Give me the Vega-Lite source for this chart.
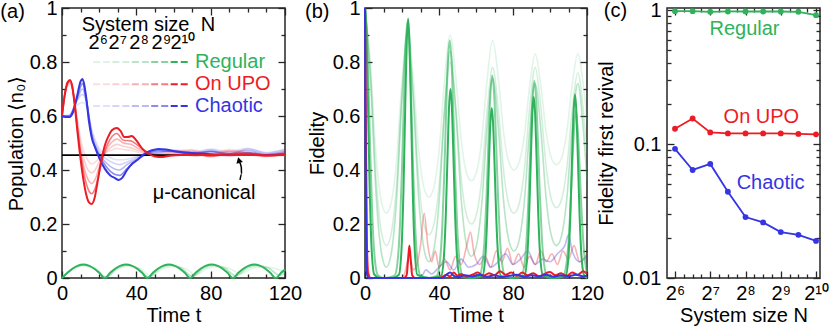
{
"$schema":"https://vega.github.io/schema/vega-lite/v6.json",
"autosize":{"type":"none"},
"padding":{"left":62,"top":8,"right":769,"bottom":325},
"background":"white",
"bounds":"flush",
"spacing":80,
"config":{
 "view":{"stroke":"#262626","strokeWidth":1.5},
 "font":"Liberation Sans",
 "axis":{"labelFont":"Liberation Sans","titleFont":"Liberation Sans","labelFontSize":20,"titleFontSize":20,"labelColor":"#000","titleColor":"#000","titleFontWeight":"normal","domain":false,"grid":false,"tickColor":"#262626","tickWidth":1.3,"labelFlush":false,"labelOverlap":false},
 "text":{"font":"Liberation Sans","fontSize":20},
 "line":{"interpolate":"monotone"}
},
"datasets":{
"pop":[
{"t":0,"y":0,"type":"Regular","N":6},{"t":6,"y":0.033,"type":"Regular","N":6},{"t":12,"y":0.045,"type":"Regular","N":6},{"t":18,"y":0.034,"type":"Regular","N":6},{"t":24,"y":0.004,"type":"Regular","N":6},{"t":30,"y":0.033,"type":"Regular","N":6},{"t":36,"y":0.044,"type":"Regular","N":6},{"t":42,"y":0.035,"type":"Regular","N":6},{"t":48,"y":0.008,"type":"Regular","N":6},{"t":54,"y":0.034,"type":"Regular","N":6},{"t":60,"y":0.043,"type":"Regular","N":6},{"t":66,"y":0.036,"type":"Regular","N":6},{"t":72,"y":0.012,"type":"Regular","N":6},{"t":78,"y":0.035,"type":"Regular","N":6},{"t":84,"y":0.042,"type":"Regular","N":6},{"t":90,"y":0.036,"type":"Regular","N":6},{"t":96,"y":0.016,"type":"Regular","N":6},{"t":102,"y":0.035,"type":"Regular","N":6},{"t":108,"y":0.041,"type":"Regular","N":6},{"t":114,"y":0.036,"type":"Regular","N":6},{"t":120,"y":0.02,"type":"Regular","N":6},
{"t":0,"y":0,"type":"Regular","N":8},{"t":5.85,"y":0.034,"type":"Regular","N":8},{"t":11.7,"y":0.048,"type":"Regular","N":8},{"t":17.55,"y":0.034,"type":"Regular","N":8},{"t":23.4,"y":0.002,"type":"Regular","N":8},{"t":29.25,"y":0.034,"type":"Regular","N":8},{"t":35.1,"y":0.048,"type":"Regular","N":8},{"t":40.95,"y":0.035,"type":"Regular","N":8},{"t":46.8,"y":0.004,"type":"Regular","N":8},{"t":52.65,"y":0.035,"type":"Regular","N":8},{"t":58.5,"y":0.047,"type":"Regular","N":8},{"t":64.35,"y":0.036,"type":"Regular","N":8},{"t":70.2,"y":0.006,"type":"Regular","N":8},{"t":76.05,"y":0.036,"type":"Regular","N":8},{"t":81.9,"y":0.047,"type":"Regular","N":8},{"t":87.75,"y":0.036,"type":"Regular","N":8},{"t":93.6,"y":0.008,"type":"Regular","N":8},{"t":99.45,"y":0.036,"type":"Regular","N":8},{"t":105.3,"y":0.046,"type":"Regular","N":8},{"t":111.15,"y":0.037,"type":"Regular","N":8},{"t":117,"y":0.01,"type":"Regular","N":8},{"t":120,"y":0.02,"type":"Regular","N":8},
{"t":0,"y":0.6,"type":"Chaotic","N":6},{"t":4,"y":0.605,"type":"Chaotic","N":6},{"t":8,"y":0.64,"type":"Chaotic","N":6},{"t":11,"y":0.65,"type":"Chaotic","N":6},{"t":13,"y":0.64,"type":"Chaotic","N":6},{"t":16,"y":0.55,"type":"Chaotic","N":6},{"t":20,"y":0.48,"type":"Chaotic","N":6},{"t":24,"y":0.455,"type":"Chaotic","N":6},{"t":28,"y":0.44,"type":"Chaotic","N":6},{"t":31,"y":0.438,"type":"Chaotic","N":6},{"t":35,"y":0.44,"type":"Chaotic","N":6},{"t":40,"y":0.45,"type":"Chaotic","N":6},{"t":46,"y":0.455,"type":"Chaotic","N":6},{"t":52,"y":0.462,"type":"Chaotic","N":6},{"t":60,"y":0.475,"type":"Chaotic","N":6},{"t":70,"y":0.465,"type":"Chaotic","N":6},{"t":80,"y":0.478,"type":"Chaotic","N":6},{"t":90,"y":0.468,"type":"Chaotic","N":6},{"t":100,"y":0.48,"type":"Chaotic","N":6},{"t":110,"y":0.465,"type":"Chaotic","N":6},{"t":120,"y":0.478,"type":"Chaotic","N":6},
{"t":0,"y":0.6,"type":"Chaotic","N":7},{"t":4,"y":0.602,"type":"Chaotic","N":7},{"t":8,"y":0.655,"type":"Chaotic","N":7},{"t":11,"y":0.68,"type":"Chaotic","N":7},{"t":13,"y":0.655,"type":"Chaotic","N":7},{"t":16,"y":0.54,"type":"Chaotic","N":7},{"t":20,"y":0.47,"type":"Chaotic","N":7},{"t":24,"y":0.44,"type":"Chaotic","N":7},{"t":28,"y":0.425,"type":"Chaotic","N":7},{"t":31,"y":0.42,"type":"Chaotic","N":7},{"t":35,"y":0.43,"type":"Chaotic","N":7},{"t":40,"y":0.445,"type":"Chaotic","N":7},{"t":46,"y":0.458,"type":"Chaotic","N":7},{"t":52,"y":0.465,"type":"Chaotic","N":7},{"t":60,"y":0.472,"type":"Chaotic","N":7},{"t":70,"y":0.46,"type":"Chaotic","N":7},{"t":80,"y":0.475,"type":"Chaotic","N":7},{"t":90,"y":0.46,"type":"Chaotic","N":7},{"t":100,"y":0.478,"type":"Chaotic","N":7},{"t":110,"y":0.462,"type":"Chaotic","N":7},{"t":120,"y":0.475,"type":"Chaotic","N":7},
{"t":0,"y":0.6,"type":"Chaotic","N":8},{"t":4,"y":0.6,"type":"Chaotic","N":8},{"t":8,"y":0.66,"type":"Chaotic","N":8},{"t":11,"y":0.7,"type":"Chaotic","N":8},{"t":13,"y":0.66,"type":"Chaotic","N":8},{"t":16,"y":0.53,"type":"Chaotic","N":8},{"t":20,"y":0.46,"type":"Chaotic","N":8},{"t":24,"y":0.425,"type":"Chaotic","N":8},{"t":28,"y":0.405,"type":"Chaotic","N":8},{"t":31,"y":0.4,"type":"Chaotic","N":8},{"t":35,"y":0.42,"type":"Chaotic","N":8},{"t":40,"y":0.44,"type":"Chaotic","N":8},{"t":46,"y":0.46,"type":"Chaotic","N":8},{"t":52,"y":0.468,"type":"Chaotic","N":8},{"t":60,"y":0.47,"type":"Chaotic","N":8},{"t":70,"y":0.458,"type":"Chaotic","N":8},{"t":80,"y":0.47,"type":"Chaotic","N":8},{"t":90,"y":0.462,"type":"Chaotic","N":8},{"t":100,"y":0.472,"type":"Chaotic","N":8},{"t":110,"y":0.458,"type":"Chaotic","N":8},{"t":120,"y":0.468,"type":"Chaotic","N":8},
{"t":0,"y":0.6,"type":"Chaotic","N":9},{"t":4,"y":0.598,"type":"Chaotic","N":9},{"t":8,"y":0.665,"type":"Chaotic","N":9},{"t":11,"y":0.72,"type":"Chaotic","N":9},{"t":13,"y":0.665,"type":"Chaotic","N":9},{"t":16,"y":0.525,"type":"Chaotic","N":9},{"t":20,"y":0.455,"type":"Chaotic","N":9},{"t":24,"y":0.41,"type":"Chaotic","N":9},{"t":28,"y":0.385,"type":"Chaotic","N":9},{"t":31,"y":0.38,"type":"Chaotic","N":9},{"t":35,"y":0.405,"type":"Chaotic","N":9},{"t":40,"y":0.435,"type":"Chaotic","N":9},{"t":46,"y":0.462,"type":"Chaotic","N":9},{"t":52,"y":0.472,"type":"Chaotic","N":9},{"t":60,"y":0.468,"type":"Chaotic","N":9},{"t":70,"y":0.462,"type":"Chaotic","N":9},{"t":80,"y":0.468,"type":"Chaotic","N":9},{"t":90,"y":0.458,"type":"Chaotic","N":9},{"t":100,"y":0.465,"type":"Chaotic","N":9},{"t":110,"y":0.455,"type":"Chaotic","N":9},{"t":120,"y":0.462,"type":"Chaotic","N":9},
{"t":0,"y":0.6,"type":"On UPO","N":6},{"t":1.5,"y":0.672,"type":"On UPO","N":6},{"t":3,"y":0.71,"type":"On UPO","N":6},{"t":4.3,"y":0.716,"type":"On UPO","N":6},{"t":5.5,"y":0.7,"type":"On UPO","N":6},{"t":7,"y":0.65,"type":"On UPO","N":6},{"t":8.5,"y":0.58,"type":"On UPO","N":6},{"t":10,"y":0.515,"type":"On UPO","N":6},{"t":12,"y":0.465,"type":"On UPO","N":6},{"t":14,"y":0.435,"type":"On UPO","N":6},{"t":16,"y":0.422,"type":"On UPO","N":6},{"t":18,"y":0.43,"type":"On UPO","N":6},{"t":20,"y":0.445,"type":"On UPO","N":6},{"t":23,"y":0.462,"type":"On UPO","N":6},{"t":26,"y":0.472,"type":"On UPO","N":6},{"t":29.5,"y":0.48,"type":"On UPO","N":6},{"t":33,"y":0.476,"type":"On UPO","N":6},{"t":37,"y":0.472,"type":"On UPO","N":6},{"t":41,"y":0.466,"type":"On UPO","N":6},{"t":46,"y":0.462,"type":"On UPO","N":6},{"t":52,"y":0.46,"type":"On UPO","N":6},{"t":60,"y":0.47,"type":"On UPO","N":6},{"t":70,"y":0.476,"type":"On UPO","N":6},{"t":80,"y":0.46,"type":"On UPO","N":6},{"t":90,"y":0.476,"type":"On UPO","N":6},{"t":100,"y":0.466,"type":"On UPO","N":6},{"t":110,"y":0.455,"type":"On UPO","N":6},{"t":120,"y":0.472,"type":"On UPO","N":6},
{"t":0,"y":0.6,"type":"On UPO","N":7},{"t":1.5,"y":0.676,"type":"On UPO","N":7},{"t":3,"y":0.716,"type":"On UPO","N":7},{"t":4.3,"y":0.722,"type":"On UPO","N":7},{"t":5.5,"y":0.705,"type":"On UPO","N":7},{"t":7,"y":0.645,"type":"On UPO","N":7},{"t":8.5,"y":0.565,"type":"On UPO","N":7},{"t":10,"y":0.495,"type":"On UPO","N":7},{"t":12,"y":0.435,"type":"On UPO","N":7},{"t":14,"y":0.4,"type":"On UPO","N":7},{"t":16,"y":0.39,"type":"On UPO","N":7},{"t":18,"y":0.402,"type":"On UPO","N":7},{"t":20,"y":0.43,"type":"On UPO","N":7},{"t":23,"y":0.462,"type":"On UPO","N":7},{"t":26,"y":0.482,"type":"On UPO","N":7},{"t":29.5,"y":0.495,"type":"On UPO","N":7},{"t":33,"y":0.488,"type":"On UPO","N":7},{"t":37,"y":0.482,"type":"On UPO","N":7},{"t":41,"y":0.472,"type":"On UPO","N":7},{"t":46,"y":0.462,"type":"On UPO","N":7},{"t":52,"y":0.458,"type":"On UPO","N":7},{"t":60,"y":0.466,"type":"On UPO","N":7},{"t":70,"y":0.472,"type":"On UPO","N":7},{"t":80,"y":0.456,"type":"On UPO","N":7},{"t":90,"y":0.472,"type":"On UPO","N":7},{"t":100,"y":0.462,"type":"On UPO","N":7},{"t":110,"y":0.452,"type":"On UPO","N":7},{"t":120,"y":0.468,"type":"On UPO","N":7},
{"t":0,"y":0.6,"type":"On UPO","N":8},{"t":1.5,"y":0.678,"type":"On UPO","N":8},{"t":3,"y":0.72,"type":"On UPO","N":8},{"t":4.3,"y":0.727,"type":"On UPO","N":8},{"t":5.5,"y":0.708,"type":"On UPO","N":8},{"t":7,"y":0.64,"type":"On UPO","N":8},{"t":8.5,"y":0.55,"type":"On UPO","N":8},{"t":10,"y":0.475,"type":"On UPO","N":8},{"t":12,"y":0.405,"type":"On UPO","N":8},{"t":14,"y":0.365,"type":"On UPO","N":8},{"t":16,"y":0.35,"type":"On UPO","N":8},{"t":18,"y":0.368,"type":"On UPO","N":8},{"t":20,"y":0.41,"type":"On UPO","N":8},{"t":23,"y":0.465,"type":"On UPO","N":8},{"t":26,"y":0.497,"type":"On UPO","N":8},{"t":29.5,"y":0.515,"type":"On UPO","N":8},{"t":33,"y":0.5,"type":"On UPO","N":8},{"t":37,"y":0.495,"type":"On UPO","N":8},{"t":41,"y":0.48,"type":"On UPO","N":8},{"t":46,"y":0.465,"type":"On UPO","N":8},{"t":52,"y":0.455,"type":"On UPO","N":8},{"t":60,"y":0.46,"type":"On UPO","N":8},{"t":70,"y":0.468,"type":"On UPO","N":8},{"t":80,"y":0.452,"type":"On UPO","N":8},{"t":90,"y":0.468,"type":"On UPO","N":8},{"t":100,"y":0.458,"type":"On UPO","N":8},{"t":110,"y":0.45,"type":"On UPO","N":8},{"t":120,"y":0.462,"type":"On UPO","N":8},
{"t":0,"y":0.6,"type":"On UPO","N":9},{"t":1.5,"y":0.68,"type":"On UPO","N":9},{"t":3,"y":0.722,"type":"On UPO","N":9},{"t":4.3,"y":0.73,"type":"On UPO","N":9},{"t":5.5,"y":0.71,"type":"On UPO","N":9},{"t":7,"y":0.635,"type":"On UPO","N":9},{"t":8.5,"y":0.54,"type":"On UPO","N":9},{"t":10,"y":0.46,"type":"On UPO","N":9},{"t":12,"y":0.38,"type":"On UPO","N":9},{"t":14,"y":0.33,"type":"On UPO","N":9},{"t":16,"y":0.312,"type":"On UPO","N":9},{"t":18,"y":0.335,"type":"On UPO","N":9},{"t":20,"y":0.39,"type":"On UPO","N":9},{"t":23,"y":0.47,"type":"On UPO","N":9},{"t":26,"y":0.515,"type":"On UPO","N":9},{"t":29.5,"y":0.535,"type":"On UPO","N":9},{"t":33,"y":0.51,"type":"On UPO","N":9},{"t":37,"y":0.508,"type":"On UPO","N":9},{"t":41,"y":0.49,"type":"On UPO","N":9},{"t":46,"y":0.465,"type":"On UPO","N":9},{"t":52,"y":0.452,"type":"On UPO","N":9},{"t":60,"y":0.455,"type":"On UPO","N":9},{"t":70,"y":0.462,"type":"On UPO","N":9},{"t":80,"y":0.45,"type":"On UPO","N":9},{"t":90,"y":0.46,"type":"On UPO","N":9},{"t":100,"y":0.462,"type":"On UPO","N":9},{"t":110,"y":0.452,"type":"On UPO","N":9},{"t":120,"y":0.458,"type":"On UPO","N":9},
{"t":0,"y":0,"type":"Regular","N":10},{"t":2.9,"y":0.019,"type":"Regular","N":10},{"t":5.75,"y":0.035,"type":"Regular","N":10},{"t":8.6,"y":0.046,"type":"Regular","N":10},{"t":11.5,"y":0.05,"type":"Regular","N":10},{"t":14.4,"y":0.046,"type":"Regular","N":10},{"t":17.25,"y":0.035,"type":"Regular","N":10},{"t":20.1,"y":0.019,"type":"Regular","N":10},
{"t":23,"y":0,"type":"Regular","N":10},{"t":25.9,"y":0.019,"type":"Regular","N":10},{"t":28.75,"y":0.035,"type":"Regular","N":10},{"t":31.6,"y":0.046,"type":"Regular","N":10},{"t":34.5,"y":0.05,"type":"Regular","N":10},{"t":37.4,"y":0.046,"type":"Regular","N":10},{"t":40.25,"y":0.035,"type":"Regular","N":10},{"t":43.1,"y":0.019,"type":"Regular","N":10},
{"t":46,"y":0,"type":"Regular","N":10},{"t":48.9,"y":0.019,"type":"Regular","N":10},{"t":51.75,"y":0.035,"type":"Regular","N":10},{"t":54.6,"y":0.046,"type":"Regular","N":10},{"t":57.5,"y":0.05,"type":"Regular","N":10},{"t":60.4,"y":0.046,"type":"Regular","N":10},{"t":63.25,"y":0.035,"type":"Regular","N":10},{"t":66.1,"y":0.019,"type":"Regular","N":10},
{"t":69,"y":0,"type":"Regular","N":10},{"t":71.9,"y":0.019,"type":"Regular","N":10},{"t":74.75,"y":0.035,"type":"Regular","N":10},{"t":77.6,"y":0.046,"type":"Regular","N":10},{"t":80.5,"y":0.05,"type":"Regular","N":10},{"t":83.4,"y":0.046,"type":"Regular","N":10},{"t":86.25,"y":0.035,"type":"Regular","N":10},{"t":89.1,"y":0.019,"type":"Regular","N":10},
{"t":92,"y":0,"type":"Regular","N":10},{"t":94.9,"y":0.019,"type":"Regular","N":10},{"t":97.75,"y":0.035,"type":"Regular","N":10},{"t":100.6,"y":0.046,"type":"Regular","N":10},{"t":103.5,"y":0.05,"type":"Regular","N":10},{"t":106.4,"y":0.046,"type":"Regular","N":10},{"t":109.25,"y":0.035,"type":"Regular","N":10},{"t":112.1,"y":0.019,"type":"Regular","N":10},
{"t":115,"y":0,"type":"Regular","N":10},{"t":117.9,"y":0.019,"type":"Regular","N":10},{"t":120,"y":0.031,"type":"Regular","N":10},
{"t":0,"y":0.6,"type":"Chaotic","N":10},{"t":2,"y":0.596,"type":"Chaotic","N":10},{"t":4,"y":0.596,"type":"Chaotic","N":10},{"t":6,"y":0.615,"type":"Chaotic","N":10},{"t":8,"y":0.67,"type":"Chaotic","N":10},{"t":10,"y":0.728,"type":"Chaotic","N":10},{"t":11,"y":0.737,"type":"Chaotic","N":10},{"t":12,"y":0.715,"type":"Chaotic","N":10},{"t":13,"y":0.67,"type":"Chaotic","N":10},{"t":14.5,"y":0.58,"type":"Chaotic","N":10},{"t":16,"y":0.52,"type":"Chaotic","N":10},{"t":18,"y":0.48,"type":"Chaotic","N":10},{"t":20,"y":0.445,"type":"Chaotic","N":10},{"t":23,"y":0.405,"type":"Chaotic","N":10},{"t":26,"y":0.38,"type":"Chaotic","N":10},{"t":28.5,"y":0.37,"type":"Chaotic","N":10},{"t":30.5,"y":0.363,"type":"Chaotic","N":10},{"t":32.5,"y":0.372,"type":"Chaotic","N":10},{"t":35,"y":0.4,"type":"Chaotic","N":10},{"t":38,"y":0.425,"type":"Chaotic","N":10},{"t":41,"y":0.44,"type":"Chaotic","N":10},{"t":44,"y":0.458,"type":"Chaotic","N":10},{"t":48,"y":0.472,"type":"Chaotic","N":10},{"t":52,"y":0.478,"type":"Chaotic","N":10},{"t":56,"y":0.476,"type":"Chaotic","N":10},{"t":60,"y":0.47,"type":"Chaotic","N":10},{"t":65,"y":0.466,"type":"Chaotic","N":10},{"t":70,"y":0.463,"type":"Chaotic","N":10},{"t":76,"y":0.46,"type":"Chaotic","N":10},{"t":82,"y":0.457,"type":"Chaotic","N":10},{"t":90,"y":0.456,"type":"Chaotic","N":10},{"t":100,"y":0.457,"type":"Chaotic","N":10},{"t":110,"y":0.456,"type":"Chaotic","N":10},{"t":120,"y":0.457,"type":"Chaotic","N":10},
{"t":0,"y":0.6,"type":"On UPO","N":10},{"t":1.5,"y":0.68,"type":"On UPO","N":10},{"t":3,"y":0.725,"type":"On UPO","N":10},{"t":4.3,"y":0.733,"type":"On UPO","N":10},{"t":5.5,"y":0.71,"type":"On UPO","N":10},{"t":7,"y":0.63,"type":"On UPO","N":10},{"t":8.5,"y":0.53,"type":"On UPO","N":10},{"t":10,"y":0.44,"type":"On UPO","N":10},{"t":11.5,"y":0.365,"type":"On UPO","N":10},{"t":13,"y":0.31,"type":"On UPO","N":10},{"t":14.5,"y":0.28,"type":"On UPO","N":10},{"t":16,"y":0.274,"type":"On UPO","N":10},{"t":17.5,"y":0.295,"type":"On UPO","N":10},{"t":19,"y":0.35,"type":"On UPO","N":10},{"t":21,"y":0.43,"type":"On UPO","N":10},{"t":23,"y":0.49,"type":"On UPO","N":10},{"t":25,"y":0.525,"type":"On UPO","N":10},{"t":27,"y":0.548,"type":"On UPO","N":10},{"t":29.5,"y":0.556,"type":"On UPO","N":10},{"t":31.5,"y":0.545,"type":"On UPO","N":10},{"t":33.5,"y":0.522,"type":"On UPO","N":10},{"t":35.5,"y":0.522,"type":"On UPO","N":10},{"t":37.5,"y":0.526,"type":"On UPO","N":10},{"t":40,"y":0.51,"type":"On UPO","N":10},{"t":43,"y":0.48,"type":"On UPO","N":10},{"t":46,"y":0.463,"type":"On UPO","N":10},{"t":50,"y":0.45,"type":"On UPO","N":10},{"t":54,"y":0.448,"type":"On UPO","N":10},{"t":58,"y":0.453,"type":"On UPO","N":10},{"t":64,"y":0.456,"type":"On UPO","N":10},{"t":72,"y":0.455,"type":"On UPO","N":10},{"t":80,"y":0.456,"type":"On UPO","N":10},{"t":90,"y":0.455,"type":"On UPO","N":10},{"t":100,"y":0.456,"type":"On UPO","N":10},{"t":110,"y":0.455,"type":"On UPO","N":10},{"t":120,"y":0.456,"type":"On UPO","N":10}
],
"fid":[
{"t":0,"y":1,"type":"Regular","N":6},{"t":3,"y":0.787,"type":"Regular","N":6},{"t":6,"y":0.453,"type":"Regular","N":6},{"t":9,"y":0.278,"type":"Regular","N":6},{"t":11.5,"y":0.24,"type":"Regular","N":6},{"t":14,"y":0.274,"type":"Regular","N":6},{"t":17,"y":0.43,"type":"Regular","N":6},{"t":20,"y":0.73,"type":"Regular","N":6},{"t":23,"y":0.92,"type":"Regular","N":6},{"t":26,"y":0.746,"type":"Regular","N":6},{"t":29,"y":0.474,"type":"Regular","N":6},{"t":32,"y":0.331,"type":"Regular","N":6},{"t":34.5,"y":0.3,"type":"Regular","N":6},{"t":37,"y":0.33,"type":"Regular","N":6},{"t":40,"y":0.468,"type":"Regular","N":6},{"t":43,"y":0.732,"type":"Regular","N":6},{"t":46,"y":0.9,"type":"Regular","N":6},{"t":49,"y":0.749,"type":"Regular","N":6},{"t":52,"y":0.511,"type":"Regular","N":6},{"t":55,"y":0.387,"type":"Regular","N":6},{"t":57.5,"y":0.36,"type":"Regular","N":6},{"t":60,"y":0.386,"type":"Regular","N":6},{"t":63,"y":0.506,"type":"Regular","N":6},{"t":66,"y":0.734,"type":"Regular","N":6},{"t":69,"y":0.88,"type":"Regular","N":6},{"t":72,"y":0.746,"type":"Regular","N":6},{"t":75,"y":0.534,"type":"Regular","N":6},{"t":78,"y":0.424,"type":"Regular","N":6},{"t":80.5,"y":0.4,"type":"Regular","N":6},{"t":83,"y":0.422,"type":"Regular","N":6},{"t":86,"y":0.52,"type":"Regular","N":6},{"t":89,"y":0.71,"type":"Regular","N":6},{"t":92,"y":0.83,"type":"Regular","N":6},{"t":95,"y":0.715,"type":"Regular","N":6},{"t":98,"y":0.535,"type":"Regular","N":6},{"t":101,"y":0.44,"type":"Regular","N":6},{"t":103.5,"y":0.42,"type":"Regular","N":6},{"t":106,"y":0.44,"type":"Regular","N":6},{"t":109,"y":0.535,"type":"Regular","N":6},{"t":112,"y":0.715,"type":"Regular","N":6},{"t":115,"y":0.83,"type":"Regular","N":6},{"t":118,"y":0.715,"type":"Regular","N":6},{"t":120,"y":0.584,"type":"Regular","N":6},
{"t":0,"y":1,"type":"Regular","N":7},{"t":3,"y":0.754,"type":"Regular","N":7},{"t":6,"y":0.366,"type":"Regular","N":7},{"t":9,"y":0.164,"type":"Regular","N":7},{"t":11.5,"y":0.12,"type":"Regular","N":7},{"t":14,"y":0.159,"type":"Regular","N":7},{"t":17,"y":0.338,"type":"Regular","N":7},{"t":20,"y":0.682,"type":"Regular","N":7},{"t":23,"y":0.9,"type":"Regular","N":7},{"t":26,"y":0.693,"type":"Regular","N":7},{"t":29,"y":0.367,"type":"Regular","N":7},{"t":32,"y":0.197,"type":"Regular","N":7},{"t":34.5,"y":0.16,"type":"Regular","N":7},{"t":37,"y":0.192,"type":"Regular","N":7},{"t":40,"y":0.339,"type":"Regular","N":7},{"t":43,"y":0.621,"type":"Regular","N":7},{"t":46,"y":0.8,"type":"Regular","N":7},{"t":49,"y":0.632,"type":"Regular","N":7},{"t":52,"y":0.368,"type":"Regular","N":7},{"t":55,"y":0.23,"type":"Regular","N":7},{"t":57.5,"y":0.2,"type":"Regular","N":7},{"t":60,"y":0.229,"type":"Regular","N":7},{"t":63,"y":0.362,"type":"Regular","N":7},{"t":66,"y":0.618,"type":"Regular","N":7},{"t":69,"y":0.78,"type":"Regular","N":7},{"t":72,"y":0.629,"type":"Regular","N":7},{"t":75,"y":0.391,"type":"Regular","N":7},{"t":78,"y":0.267,"type":"Regular","N":7},{"t":80.5,"y":0.24,"type":"Regular","N":7},{"t":83,"y":0.267,"type":"Regular","N":7},{"t":86,"y":0.391,"type":"Regular","N":7},{"t":89,"y":0.629,"type":"Regular","N":7},{"t":92,"y":0.78,"type":"Regular","N":7},{"t":95,"y":0.634,"type":"Regular","N":7},{"t":98,"y":0.406,"type":"Regular","N":7},{"t":101,"y":0.286,"type":"Regular","N":7},{"t":103.5,"y":0.26,"type":"Regular","N":7},{"t":106,"y":0.285,"type":"Regular","N":7},{"t":109,"y":0.4,"type":"Regular","N":7},{"t":112,"y":0.62,"type":"Regular","N":7},{"t":115,"y":0.76,"type":"Regular","N":7},{"t":118,"y":0.62,"type":"Regular","N":7},{"t":120,"y":0.46,"type":"Regular","N":7},
{"t":0,"y":1,"type":"Regular","N":8},{"t":3,"y":0.731,"type":"Regular","N":8},{"t":6,"y":0.309,"type":"Regular","N":8},{"t":9,"y":0.088,"type":"Regular","N":8},{"t":11.5,"y":0.04,"type":"Regular","N":8},{"t":14,"y":0.084,"type":"Regular","N":8},{"t":17,"y":0.284,"type":"Regular","N":8},{"t":20,"y":0.666,"type":"Regular","N":8},{"t":23,"y":0.91,"type":"Regular","N":8},{"t":26,"y":0.672,"type":"Regular","N":8},{"t":29,"y":0.298,"type":"Regular","N":8},{"t":32,"y":0.103,"type":"Regular","N":8},{"t":34.5,"y":0.06,"type":"Regular","N":8},{"t":37,"y":0.099,"type":"Regular","N":8},{"t":40,"y":0.278,"type":"Regular","N":8},{"t":43,"y":0.622,"type":"Regular","N":8},{"t":46,"y":0.84,"type":"Regular","N":8},{"t":49,"y":0.627,"type":"Regular","N":8},{"t":52,"y":0.293,"type":"Regular","N":8},{"t":55,"y":0.118,"type":"Regular","N":8},{"t":57.5,"y":0.08,"type":"Regular","N":8},{"t":60,"y":0.113,"type":"Regular","N":8},{"t":63,"y":0.265,"type":"Regular","N":8},{"t":66,"y":0.555,"type":"Regular","N":8},{"t":69,"y":0.74,"type":"Regular","N":8},{"t":72,"y":0.561,"type":"Regular","N":8},{"t":75,"y":0.279,"type":"Regular","N":8},{"t":78,"y":0.132,"type":"Regular","N":8},{"t":80.5,"y":0.1,"type":"Regular","N":8},{"t":83,"y":0.131,"type":"Regular","N":8},{"t":86,"y":0.274,"type":"Regular","N":8},{"t":89,"y":0.546,"type":"Regular","N":8},{"t":92,"y":0.72,"type":"Regular","N":8},{"t":95,"y":0.552,"type":"Regular","N":8},{"t":98,"y":0.288,"type":"Regular","N":8},{"t":101,"y":0.15,"type":"Regular","N":8},{"t":103.5,"y":0.12,"type":"Regular","N":8},{"t":106,"y":0.15,"type":"Regular","N":8},{"t":109,"y":0.288,"type":"Regular","N":8},{"t":112,"y":0.552,"type":"Regular","N":8},{"t":115,"y":0.72,"type":"Regular","N":8},{"t":118,"y":0.552,"type":"Regular","N":8},{"t":120,"y":0.36,"type":"Regular","N":8},
{"t":0,"y":1,"type":"On UPO","N":8},{"t":0.6,"y":0.4,"type":"On UPO","N":8},{"t":1.5,"y":0.05,"type":"On UPO","N":8},{"t":3,"y":0,"type":"On UPO","N":8},{"t":20,"y":0,"type":"On UPO","N":8},{"t":22,"y":0.03,"type":"On UPO","N":8},{"t":24,"y":0.09,"type":"On UPO","N":8},{"t":26,"y":0.03,"type":"On UPO","N":8},{"t":28,"y":0.05,"type":"On UPO","N":8},{"t":30,"y":0.12,"type":"On UPO","N":8},{"t":32,"y":0.24,"type":"On UPO","N":8},{"t":34,"y":0.12,"type":"On UPO","N":8},{"t":36,"y":0.06,"type":"On UPO","N":8},{"t":38,"y":0.1,"type":"On UPO","N":8},{"t":40,"y":0.04,"type":"On UPO","N":8},{"t":43,"y":0.07,"type":"On UPO","N":8},{"t":46,"y":0.03,"type":"On UPO","N":8},{"t":49,"y":0.08,"type":"On UPO","N":8},{"t":52,"y":0.05,"type":"On UPO","N":8},{"t":55,"y":0.12,"type":"On UPO","N":8},{"t":57,"y":0.17,"type":"On UPO","N":8},{"t":59,"y":0.09,"type":"On UPO","N":8},{"t":62,"y":0.05,"type":"On UPO","N":8},{"t":65,"y":0.08,"type":"On UPO","N":8},{"t":68,"y":0.04,"type":"On UPO","N":8},{"t":71,"y":0.1,"type":"On UPO","N":8},{"t":74,"y":0.06,"type":"On UPO","N":8},{"t":77,"y":0.11,"type":"On UPO","N":8},{"t":80,"y":0.05,"type":"On UPO","N":8},{"t":83,"y":0.09,"type":"On UPO","N":8},{"t":86,"y":0.04,"type":"On UPO","N":8},{"t":89,"y":0.08,"type":"On UPO","N":8},{"t":92,"y":0.05,"type":"On UPO","N":8},{"t":95,"y":0.1,"type":"On UPO","N":8},{"t":98,"y":0.06,"type":"On UPO","N":8},{"t":101,"y":0.09,"type":"On UPO","N":8},{"t":104,"y":0.05,"type":"On UPO","N":8},{"t":107,"y":0.1,"type":"On UPO","N":8},{"t":110,"y":0.07,"type":"On UPO","N":8},{"t":113,"y":0.12,"type":"On UPO","N":8},{"t":116,"y":0.06,"type":"On UPO","N":8},{"t":120,"y":0.09,"type":"On UPO","N":8},
{"t":0,"y":1,"type":"Chaotic","N":8},{"t":0.4,"y":0.3,"type":"Chaotic","N":8},{"t":1,"y":0.02,"type":"Chaotic","N":8},{"t":2,"y":0,"type":"Chaotic","N":8},{"t":30,"y":0,"type":"Chaotic","N":8},{"t":33,"y":0.03,"type":"Chaotic","N":8},{"t":36,"y":0.015,"type":"Chaotic","N":8},{"t":40,"y":0.04,"type":"Chaotic","N":8},{"t":44,"y":0.06,"type":"Chaotic","N":8},{"t":48,"y":0.03,"type":"Chaotic","N":8},{"t":52,"y":0.07,"type":"Chaotic","N":8},{"t":56,"y":0.04,"type":"Chaotic","N":8},{"t":60,"y":0.05,"type":"Chaotic","N":8},{"t":64,"y":0.08,"type":"Chaotic","N":8},{"t":68,"y":0.04,"type":"Chaotic","N":8},{"t":72,"y":0.06,"type":"Chaotic","N":8},{"t":76,"y":0.09,"type":"Chaotic","N":8},{"t":80,"y":0.05,"type":"Chaotic","N":8},{"t":84,"y":0.07,"type":"Chaotic","N":8},{"t":88,"y":0.1,"type":"Chaotic","N":8},{"t":92,"y":0.05,"type":"Chaotic","N":8},{"t":96,"y":0.07,"type":"Chaotic","N":8},{"t":100,"y":0.06,"type":"Chaotic","N":8},{"t":104,"y":0.09,"type":"Chaotic","N":8},{"t":108,"y":0.12,"type":"Chaotic","N":8},{"t":110,"y":0.16,"type":"Chaotic","N":8},{"t":112,"y":0.1,"type":"Chaotic","N":8},{"t":116,"y":0.06,"type":"Chaotic","N":8},{"t":120,"y":0.08,"type":"Chaotic","N":8},
{"t":0,"y":1,"type":"Regular","N":9},{"t":1,"y":0.91,"type":"Regular","N":9},{"t":2,"y":0.685,"type":"Regular","N":9},{"t":3,"y":0.427,"type":"Regular","N":9},{"t":4,"y":0.22,"type":"Regular","N":9},{"t":5.5,"y":0.057,"type":"Regular","N":9},{"t":7,"y":0.01,"type":"Regular","N":9},{"t":10,"y":0,"type":"Regular","N":9},
{"t":16,"y":0.009,"type":"Regular","N":9},{"t":17.5,"y":0.054,"type":"Regular","N":9},{"t":19,"y":0.209,"type":"Regular","N":9},{"t":20,"y":0.406,"type":"Regular","N":9},{"t":21,"y":0.651,"type":"Regular","N":9},{"t":22,"y":0.865,"type":"Regular","N":9},{"t":23,"y":0.95,"type":"Regular","N":9},{"t":24,"y":0.865,"type":"Regular","N":9},{"t":25,"y":0.651,"type":"Regular","N":9},{"t":26,"y":0.406,"type":"Regular","N":9},{"t":27,"y":0.209,"type":"Regular","N":9},{"t":28.5,"y":0.054,"type":"Regular","N":9},{"t":30,"y":0.009,"type":"Regular","N":9},{"t":34.5,"y":0,"type":"Regular","N":9},
{"t":38.8,"y":0.009,"type":"Regular","N":9},{"t":40.3,"y":0.05,"type":"Regular","N":9},{"t":41.8,"y":0.194,"type":"Regular","N":9},{"t":42.8,"y":0.376,"type":"Regular","N":9},{"t":43.8,"y":0.603,"type":"Regular","N":9},{"t":44.8,"y":0.801,"type":"Regular","N":9},{"t":45.8,"y":0.88,"type":"Regular","N":9},{"t":46.8,"y":0.801,"type":"Regular","N":9},{"t":47.8,"y":0.603,"type":"Regular","N":9},{"t":48.8,"y":0.376,"type":"Regular","N":9},{"t":49.8,"y":0.194,"type":"Regular","N":9},{"t":51.3,"y":0.05,"type":"Regular","N":9},{"t":52.8,"y":0.009,"type":"Regular","N":9},{"t":57.5,"y":0,"type":"Regular","N":9},
{"t":61.8,"y":0.007,"type":"Regular","N":9},{"t":63.3,"y":0.043,"type":"Regular","N":9},{"t":64.8,"y":0.165,"type":"Regular","N":9},{"t":65.8,"y":0.32,"type":"Regular","N":9},{"t":66.8,"y":0.514,"type":"Regular","N":9},{"t":67.8,"y":0.683,"type":"Regular","N":9},{"t":68.8,"y":0.75,"type":"Regular","N":9},{"t":69.8,"y":0.683,"type":"Regular","N":9},{"t":70.8,"y":0.514,"type":"Regular","N":9},{"t":71.8,"y":0.32,"type":"Regular","N":9},{"t":72.8,"y":0.165,"type":"Regular","N":9},{"t":74.3,"y":0.043,"type":"Regular","N":9},{"t":75.8,"y":0.007,"type":"Regular","N":9},{"t":80,"y":0,"type":"Regular","N":9},
{"t":84.5,"y":0.007,"type":"Regular","N":9},{"t":86,"y":0.042,"type":"Regular","N":9},{"t":87.5,"y":0.161,"type":"Regular","N":9},{"t":88.5,"y":0.312,"type":"Regular","N":9},{"t":89.5,"y":0.5,"type":"Regular","N":9},{"t":90.5,"y":0.664,"type":"Regular","N":9},{"t":91.5,"y":0.73,"type":"Regular","N":9},{"t":92.5,"y":0.664,"type":"Regular","N":9},{"t":93.5,"y":0.5,"type":"Regular","N":9},{"t":94.5,"y":0.312,"type":"Regular","N":9},{"t":95.5,"y":0.161,"type":"Regular","N":9},{"t":97,"y":0.042,"type":"Regular","N":9},{"t":98.5,"y":0.007,"type":"Regular","N":9},{"t":103,"y":0,"type":"Regular","N":9},
{"t":107,"y":0.006,"type":"Regular","N":9},{"t":108.5,"y":0.035,"type":"Regular","N":9},{"t":110,"y":0.133,"type":"Regular","N":9},{"t":111,"y":0.258,"type":"Regular","N":9},{"t":112,"y":0.413,"type":"Regular","N":9},{"t":113,"y":0.549,"type":"Regular","N":9},{"t":114,"y":0.62,"type":"Regular","N":9},{"t":115,"y":0.549,"type":"Regular","N":9},{"t":116,"y":0.413,"type":"Regular","N":9},{"t":117,"y":0.258,"type":"Regular","N":9},{"t":118,"y":0.133,"type":"Regular","N":9},{"t":119.5,"y":0.035,"type":"Regular","N":9},{"t":120,"y":0.02,"type":"Regular","N":9},
{"t":0,"y":1,"type":"Regular","N":10},{"t":0.7,"y":0.918,"type":"Regular","N":10},{"t":1.5,"y":0.678,"type":"Regular","N":10},{"t":2.5,"y":0.339,"type":"Regular","N":10},{"t":3.5,"y":0.12,"type":"Regular","N":10},{"t":5,"y":0.013,"type":"Regular","N":10},{"t":8,"y":0,"type":"Regular","N":10},{"t":15,"y":0,"type":"Regular","N":10},
{"t":18.3,"y":0.012,"type":"Regular","N":10},{"t":19.8,"y":0.115,"type":"Regular","N":10},{"t":20.8,"y":0.325,"type":"Regular","N":10},{"t":21.8,"y":0.651,"type":"Regular","N":10},{"t":22.6,"y":0.881,"type":"Regular","N":10},{"t":23.3,"y":0.96,"type":"Regular","N":10},{"t":24,"y":0.881,"type":"Regular","N":10},{"t":24.8,"y":0.651,"type":"Regular","N":10},{"t":25.8,"y":0.325,"type":"Regular","N":10},{"t":26.8,"y":0.115,"type":"Regular","N":10},{"t":28.3,"y":0.012,"type":"Regular","N":10},{"t":34.7,"y":0,"type":"Regular","N":10},
{"t":41.2,"y":0.009,"type":"Regular","N":10},{"t":42.7,"y":0.084,"type":"Regular","N":10},{"t":43.7,"y":0.237,"type":"Regular","N":10},{"t":44.7,"y":0.475,"type":"Regular","N":10},{"t":45.5,"y":0.643,"type":"Regular","N":10},{"t":46.2,"y":0.7,"type":"Regular","N":10},{"t":46.9,"y":0.643,"type":"Regular","N":10},{"t":47.7,"y":0.475,"type":"Regular","N":10},{"t":48.7,"y":0.237,"type":"Regular","N":10},{"t":49.7,"y":0.084,"type":"Regular","N":10},{"t":51.2,"y":0.009,"type":"Regular","N":10},{"t":57.4,"y":0,"type":"Regular","N":10},
{"t":63.5,"y":0.008,"type":"Regular","N":10},{"t":65,"y":0.076,"type":"Regular","N":10},{"t":66,"y":0.214,"type":"Regular","N":10},{"t":67,"y":0.427,"type":"Regular","N":10},{"t":67.8,"y":0.578,"type":"Regular","N":10},{"t":68.5,"y":0.63,"type":"Regular","N":10},{"t":69.2,"y":0.578,"type":"Regular","N":10},{"t":70,"y":0.427,"type":"Regular","N":10},{"t":71,"y":0.214,"type":"Regular","N":10},{"t":72,"y":0.076,"type":"Regular","N":10},{"t":73.5,"y":0.008,"type":"Regular","N":10},{"t":80,"y":0,"type":"Regular","N":10},
{"t":86.2,"y":0.009,"type":"Regular","N":10},{"t":87.7,"y":0.08,"type":"Regular","N":10},{"t":88.7,"y":0.227,"type":"Regular","N":10},{"t":89.7,"y":0.454,"type":"Regular","N":10},{"t":90.5,"y":0.615,"type":"Regular","N":10},{"t":91.2,"y":0.67,"type":"Regular","N":10},{"t":91.9,"y":0.615,"type":"Regular","N":10},{"t":92.7,"y":0.454,"type":"Regular","N":10},{"t":93.7,"y":0.227,"type":"Regular","N":10},{"t":94.7,"y":0.08,"type":"Regular","N":10},{"t":96.2,"y":0.009,"type":"Regular","N":10},{"t":102,"y":0,"type":"Regular","N":10},
{"t":108.5,"y":0.009,"type":"Regular","N":10},{"t":110,"y":0.082,"type":"Regular","N":10},{"t":111,"y":0.231,"type":"Regular","N":10},{"t":112,"y":0.461,"type":"Regular","N":10},{"t":112.8,"y":0.624,"type":"Regular","N":10},{"t":113.5,"y":0.68,"type":"Regular","N":10},{"t":114.2,"y":0.624,"type":"Regular","N":10},{"t":115,"y":0.461,"type":"Regular","N":10},{"t":116,"y":0.231,"type":"Regular","N":10},{"t":117,"y":0.082,"type":"Regular","N":10},{"t":118.5,"y":0.009,"type":"Regular","N":10},{"t":120,"y":0,"type":"Regular","N":10},
{"t":0,"y":1,"type":"On UPO","N":10},{"t":0.5,"y":0.55,"type":"On UPO","N":10},{"t":1,"y":0.15,"type":"On UPO","N":10},{"t":1.6,"y":0.02,"type":"On UPO","N":10},{"t":3,"y":0,"type":"On UPO","N":10},{"t":21,"y":0,"type":"On UPO","N":10},{"t":22.5,"y":0.01,"type":"On UPO","N":10},{"t":23.2,"y":0.06,"type":"On UPO","N":10},{"t":24,"y":0.12,"type":"On UPO","N":10},{"t":24.8,"y":0.06,"type":"On UPO","N":10},{"t":25.5,"y":0.01,"type":"On UPO","N":10},{"t":27,"y":0,"type":"On UPO","N":10},{"t":40,"y":0,"type":"On UPO","N":10},{"t":42,"y":0.005,"type":"On UPO","N":10},{"t":44,"y":0.012,"type":"On UPO","N":10},{"t":46,"y":0.006,"type":"On UPO","N":10},{"t":48,"y":0.02,"type":"On UPO","N":10},{"t":50,"y":0.008,"type":"On UPO","N":10},{"t":52,"y":0.015,"type":"On UPO","N":10},{"t":55,"y":0.005,"type":"On UPO","N":10},{"t":58,"y":0.012,"type":"On UPO","N":10},{"t":61,"y":0.02,"type":"On UPO","N":10},{"t":64,"y":0.008,"type":"On UPO","N":10},{"t":67,"y":0.018,"type":"On UPO","N":10},{"t":70,"y":0.01,"type":"On UPO","N":10},{"t":73,"y":0.025,"type":"On UPO","N":10},{"t":76,"y":0.012,"type":"On UPO","N":10},{"t":79,"y":0.02,"type":"On UPO","N":10},{"t":82,"y":0.008,"type":"On UPO","N":10},{"t":85,"y":0.02,"type":"On UPO","N":10},{"t":88,"y":0.01,"type":"On UPO","N":10},{"t":91,"y":0.018,"type":"On UPO","N":10},{"t":94,"y":0.006,"type":"On UPO","N":10},{"t":97,"y":0.015,"type":"On UPO","N":10},{"t":100,"y":0.022,"type":"On UPO","N":10},{"t":103,"y":0.01,"type":"On UPO","N":10},{"t":106,"y":0.018,"type":"On UPO","N":10},{"t":109,"y":0.008,"type":"On UPO","N":10},{"t":112,"y":0.02,"type":"On UPO","N":10},{"t":115,"y":0.012,"type":"On UPO","N":10},{"t":118,"y":0.025,"type":"On UPO","N":10},{"t":120,"y":0.015,"type":"On UPO","N":10},
{"t":0,"y":1,"type":"Chaotic","N":10},{"t":0.3,"y":0.5,"type":"Chaotic","N":10},{"t":0.7,"y":0.1,"type":"Chaotic","N":10},{"t":1.2,"y":0.01,"type":"Chaotic","N":10},{"t":2,"y":0,"type":"Chaotic","N":10},{"t":42,"y":0,"type":"Chaotic","N":10},{"t":44,"y":0.012,"type":"Chaotic","N":10},{"t":46,"y":0.02,"type":"Chaotic","N":10},{"t":48,"y":0.008,"type":"Chaotic","N":10},{"t":50,"y":0.004,"type":"Chaotic","N":10},{"t":54,"y":0.01,"type":"Chaotic","N":10},{"t":58,"y":0.006,"type":"Chaotic","N":10},{"t":62,"y":0.012,"type":"Chaotic","N":10},{"t":66,"y":0.005,"type":"Chaotic","N":10},{"t":70,"y":0.01,"type":"Chaotic","N":10},{"t":74,"y":0.004,"type":"Chaotic","N":10},{"t":78,"y":0.008,"type":"Chaotic","N":10},{"t":82,"y":0.012,"type":"Chaotic","N":10},{"t":86,"y":0.005,"type":"Chaotic","N":10},{"t":90,"y":0.01,"type":"Chaotic","N":10},{"t":94,"y":0.006,"type":"Chaotic","N":10},{"t":98,"y":0.012,"type":"Chaotic","N":10},{"t":102,"y":0.005,"type":"Chaotic","N":10},{"t":106,"y":0.01,"type":"Chaotic","N":10},{"t":110,"y":0.007,"type":"Chaotic","N":10},{"t":114,"y":0.012,"type":"Chaotic","N":10},{"t":118,"y":0.006,"type":"Chaotic","N":10},{"t":120,"y":0.01,"type":"Chaotic","N":10}
],
"rev":[
{"logN":6,"y":0.98,"type":"Regular"},{"logN":6.5,"y":0.98,"type":"Regular"},{"logN":7,"y":0.97,"type":"Regular"},{"logN":7.5,"y":0.975,"type":"Regular"},{"logN":8,"y":0.975,"type":"Regular"},{"logN":8.5,"y":0.975,"type":"Regular"},{"logN":9,"y":0.975,"type":"Regular"},{"logN":9.5,"y":0.97,"type":"Regular"},{"logN":10,"y":0.915,"type":"Regular"},
{"logN":6,"y":0.13,"type":"On UPO"},{"logN":6.5,"y":0.155,"type":"On UPO"},{"logN":7,"y":0.122,"type":"On UPO"},{"logN":7.5,"y":0.12,"type":"On UPO"},{"logN":8,"y":0.12,"type":"On UPO"},{"logN":8.5,"y":0.12,"type":"On UPO"},{"logN":9,"y":0.12,"type":"On UPO"},{"logN":9.5,"y":0.119,"type":"On UPO"},{"logN":10,"y":0.118,"type":"On UPO"},
{"logN":6,"y":0.092,"type":"Chaotic"},{"logN":6.5,"y":0.064,"type":"Chaotic"},{"logN":7,"y":0.071,"type":"Chaotic"},{"logN":7.5,"y":0.044,"type":"Chaotic"},{"logN":8,"y":0.0285,"type":"Chaotic"},{"logN":8.5,"y":0.026,"type":"Chaotic"},{"logN":9,"y":0.022,"type":"Chaotic"},{"logN":9.5,"y":0.021,"type":"Chaotic"},{"logN":10,"y":0.0189,"type":"Chaotic"}
]
},
"hconcat":[
{"width":223,"height":270,
 "resolve":{"axis":{"x":"independent","y":"independent"}},
 "layer":[
  {"data":{"name":"pop"},"transform":[{"filter":"datum.N < 10"}],"mark":{"type":"line","strokeWidth":1.6},
   "encoding":{
    "x":{"field":"t","type":"quantitative","scale":{"domain":[0,120],"nice":false,"zero":false},"axis":{"orient":"bottom","values":[0,40,80,120],"ticks":false,"labelPadding":5,"title":"Time t","titlePadding":2}},
    "y":{"field":"y","type":"quantitative","scale":{"domain":[0,1],"nice":false},"axis":{"orient":"left","values":[0,0.2,0.4,0.6,0.8,1],"ticks":false,"labelPadding":5,"title":"Population ⟨n₀⟩","titlePadding":3,"labelExpr":"datum.value === 0 ? '0' : datum.value === 1 ? '1' : format(datum.value, '.1f')"}},
    "color":{"field":"type","type":"nominal","scale":{"domain":["Regular","On UPO","Chaotic"],"range":["#2eb35c","#ec1c24","#3535e3"]},"legend":null},
    "opacity":{"field":"N","type":"quantitative","scale":{"type":"pow","exponent":6,"domain":[6,10],"range":[0.15,1]},"legend":null},
    "detail":{"field":"N","type":"nominal"}}},
  {"data":{"values":[{"a":0,"b":120,"y":0.455}]},"mark":{"type":"rule","color":"#000","strokeWidth":1.8},
   "encoding":{
    "x":{"field":"a","type":"quantitative","scale":{"domain":[0,120],"nice":false,"zero":false},"axis":{"orient":"bottom","values":[0,40,80,120],"labels":false,"tickSize":-7,"title":null}},
    "x2":{"field":"b"},
    "y":{"field":"y","type":"quantitative","scale":{"domain":[0,1],"nice":false},"axis":{"orient":"left","values":[0,0.2,0.4,0.6,0.8,1],"labels":false,"tickSize":-7,"title":null}}}},
  {"data":{"name":"pop"},"transform":[{"filter":"datum.N == 10"}],"mark":{"type":"line","strokeWidth":2},
   "encoding":{
    "x":{"field":"t","type":"quantitative","scale":{"domain":[0,120],"nice":false,"zero":false},"axis":{"orient":"top","values":[0,40,80,120],"labels":false,"tickSize":-7,"title":null}},
    "y":{"field":"y","type":"quantitative","scale":{"domain":[0,1],"nice":false},"axis":{"orient":"right","values":[0,0.2,0.4,0.6,0.8,1],"labels":false,"tickSize":-7,"title":null}},
    "color":{"field":"type","type":"nominal","legend":null},
    "detail":{"field":"N","type":"nominal"}}},
  {"data":{"values":[
    {"type":"Regular","N":6,"a":16.7,"b":27.1,"y":0.8},{"type":"Regular","N":7,"a":27.1,"b":37.6,"y":0.8},{"type":"Regular","N":8,"a":37.6,"b":48,"y":0.8},{"type":"Regular","N":9,"a":48,"b":58.5,"y":0.8},{"type":"Regular","N":10,"a":58.5,"b":68.9,"y":0.8},
    {"type":"On UPO","N":6,"a":16.7,"b":27.1,"y":0.718},{"type":"On UPO","N":7,"a":27.1,"b":37.6,"y":0.718},{"type":"On UPO","N":8,"a":37.6,"b":48,"y":0.718},{"type":"On UPO","N":9,"a":48,"b":58.5,"y":0.718},{"type":"On UPO","N":10,"a":58.5,"b":68.9,"y":0.718},
    {"type":"Chaotic","N":6,"a":16.7,"b":27.1,"y":0.637},{"type":"Chaotic","N":7,"a":27.1,"b":37.6,"y":0.637},{"type":"Chaotic","N":8,"a":37.6,"b":48,"y":0.637},{"type":"Chaotic","N":9,"a":48,"b":58.5,"y":0.637},{"type":"Chaotic","N":10,"a":58.5,"b":68.9,"y":0.637}]},
   "mark":{"type":"rule","strokeWidth":2,"strokeDash":[7,3]},
   "encoding":{
    "x":{"field":"a","type":"quantitative","scale":{"domain":[0,120],"nice":false,"zero":false},"axis":{"orient":"bottom","values":[10,20,30,50,60,70,90,100,110],"labels":false,"tickSize":-4,"title":null}},
    "x2":{"field":"b"},
    "y":{"field":"y","type":"quantitative","scale":{"domain":[0,1],"nice":false},"axis":{"orient":"left","values":[0.1,0.3,0.5,0.7,0.9],"labels":false,"tickSize":-4,"title":null}},
    "color":{"field":"type","type":"nominal","legend":null},
    "opacity":{"field":"N","type":"quantitative","legend":null}}},
  {"data":{"values":[{"type":"Regular","x":71.6,"y":0.8},{"type":"On UPO","x":71.6,"y":0.718},{"type":"Chaotic","x":71.6,"y":0.637}]},
   "mark":{"type":"text","align":"left","baseline":"middle","fontSize":20},
   "encoding":{
    "x":{"field":"x","type":"quantitative","scale":{"domain":[0,120],"nice":false,"zero":false},"axis":{"orient":"top","values":[10,20,30,50,60,70,90,100,110],"labels":false,"tickSize":-4,"title":null}},
    "y":{"field":"y","type":"quantitative","scale":{"domain":[0,1],"nice":false},"axis":{"orient":"right","values":[0.1,0.3,0.5,0.7,0.9],"labels":false,"tickSize":-4,"title":null}},
    "text":{"field":"type"},
    "color":{"field":"type","type":"nominal","legend":null}}},
  {"data":{"values":[{"x":19.5,"y":0.87,"lab":"2⁶"},{"x":30,"y":0.87,"lab":"2⁷"},{"x":41.5,"y":0.87,"lab":"2⁸"},{"x":53.5,"y":0.87,"lab":"2⁹"},{"x":65,"y":0.87,"lab":"2¹⁰"}]},
   "mark":{"type":"text","align":"center","baseline":"middle","fontSize":20,"color":"#000"},
   "encoding":{"x":{"field":"x","type":"quantitative","axis":null},"y":{"field":"y","type":"quantitative","axis":null},"text":{"field":"lab"}}},
  {"data":{"values":[{"x":39.6,"y":0.937,"lab":"System size"},{"x":78.6,"y":0.937,"lab":"N"}]},
   "mark":{"type":"text","align":"center","baseline":"middle","fontSize":20,"color":"#000"},
   "encoding":{"x":{"field":"x","type":"quantitative","axis":null},"y":{"field":"y","type":"quantitative","axis":null},"text":{"field":"lab"},
    "fontStyle":{"condition":{"test":"datum.lab === 'N'","value":"italic"},"value":"normal"}}},
  {"data":{"values":[{"x":76.4,"y":0.315,"lab":"μ-canonical"}]},
   "mark":{"type":"text","align":"center","baseline":"middle","fontSize":20,"color":"#000"},
   "encoding":{"x":{"field":"x","type":"quantitative","axis":null},"y":{"field":"y","type":"quantitative","axis":null},"text":{"field":"lab"}}},
  {"data":{"values":[{"x":95.8,"y":0.363},{"x":96.6,"y":0.385},{"x":96.5,"y":0.41},{"x":95.6,"y":0.428}]},
   "mark":{"type":"line","color":"#000","strokeWidth":1.5,"interpolate":"monotone"},
   "encoding":{"x":{"field":"x","type":"quantitative","axis":null},"y":{"field":"y","type":"quantitative","axis":null},"order":{"field":"y"}}},
  {"data":{"values":[{"x":95.2,"y":0.437}]},
   "mark":{"type":"point","shape":"triangle-up","filled":true,"color":"#000","size":45,"opacity":1,"angle":-15},
   "encoding":{"x":{"field":"x","type":"quantitative","axis":null},"y":{"field":"y","type":"quantitative","axis":null}}},
  {"data":{"values":[{"x":-26.6,"y":0.985,"lab":"(a)"}]},
   "mark":{"type":"text","align":"center","baseline":"middle","fontSize":20,"color":"#000"},
   "encoding":{"x":{"field":"x","type":"quantitative","axis":null},"y":{"field":"y","type":"quantitative","axis":null},"text":{"field":"lab"}}}
 ]},
{"width":222,"height":270,
 "resolve":{"axis":{"x":"independent","y":"independent"}},
 "layer":[
  {"data":{"name":"fid"},"transform":[{"filter":"datum.type === 'Regular' && datum.N < 9"}],"mark":{"type":"line","strokeWidth":1.6},
   "encoding":{
    "x":{"field":"t","type":"quantitative","scale":{"domain":[0,120],"nice":false,"zero":false},"axis":{"orient":"bottom","values":[0,40,80,120],"ticks":false,"labelPadding":5,"title":"Time t","titlePadding":2}},
    "y":{"field":"y","type":"quantitative","scale":{"domain":[0,1],"nice":false},"axis":{"orient":"left","values":[0,0.2,0.4,0.6,0.8,1],"ticks":false,"labelPadding":5,"title":"Fidelity","titlePadding":5,"labelExpr":"datum.value === 0 ? '0' : datum.value === 1 ? '1' : format(datum.value, '.1f')"}},
    "color":{"field":"type","type":"nominal","scale":{"domain":["Regular","On UPO","Chaotic"],"range":["#2eb35c","#ec1c24","#3535e3"]},"legend":null},
    "opacity":{"field":"N","type":"quantitative","scale":{"type":"pow","exponent":6,"domain":[6,10],"range":[0.22,1]},"legend":null},
    "detail":{"field":"N","type":"nominal"}}},
  {"data":{"name":"fid"},"transform":[{"filter":"datum.type !== 'Regular' && datum.N < 10"}],"mark":{"type":"line","strokeWidth":1.6},
   "encoding":{
    "x":{"field":"t","type":"quantitative","scale":{"domain":[0,120],"nice":false,"zero":false},"axis":{"orient":"bottom","values":[0,40,80,120],"labels":false,"tickSize":-7,"title":null}},
    "y":{"field":"y","type":"quantitative","scale":{"domain":[0,1],"nice":false},"axis":{"orient":"left","values":[0,0.2,0.4,0.6,0.8,1],"labels":false,"tickSize":-7,"title":null}},
    "color":{"field":"type","type":"nominal","legend":null},
    "opacity":{"field":"N","type":"quantitative","legend":null},
    "detail":{"field":"N","type":"nominal"}}},
  {"data":{"name":"fid"},"transform":[{"filter":"datum.type === 'Regular' && datum.N >= 9"}],"mark":{"type":"line","strokeWidth":2},
   "encoding":{
    "x":{"field":"t","type":"quantitative","scale":{"domain":[0,120],"nice":false,"zero":false},"axis":{"orient":"top","values":[0,40,80,120],"labels":false,"tickSize":-7,"title":null}},
    "y":{"field":"y","type":"quantitative","scale":{"domain":[0,1],"nice":false},"axis":{"orient":"right","values":[0,0.2,0.4,0.6,0.8,1],"labels":false,"tickSize":-7,"title":null}},
    "color":{"field":"type","type":"nominal","legend":null},
    "opacity":{"field":"N","type":"quantitative","legend":null},
    "detail":{"field":"N","type":"nominal"}}},
  {"data":{"name":"fid"},"transform":[{"filter":"datum.type !== 'Regular' && datum.N == 10"}],"mark":{"type":"line","strokeWidth":2},
   "encoding":{
    "x":{"field":"t","type":"quantitative","scale":{"domain":[0,120],"nice":false,"zero":false},"axis":{"orient":"bottom","values":[10,20,30,50,60,70,90,100,110],"labels":false,"tickSize":-4,"title":null}},
    "y":{"field":"y","type":"quantitative","scale":{"domain":[0,1],"nice":false},"axis":{"orient":"left","values":[0.1,0.3,0.5,0.7,0.9],"labels":false,"tickSize":-4,"title":null}},
    "color":{"field":"type","type":"nominal","legend":null},
    "detail":{"field":"N","type":"nominal"}}},
  {"data":{"values":[{"x":-25.8,"y":0.985,"lab":"(b)"}]},
   "mark":{"type":"text","align":"center","baseline":"middle","fontSize":20,"color":"#000"},
   "encoding":{
    "x":{"field":"x","type":"quantitative","scale":{"domain":[0,120],"nice":false,"zero":false},"axis":{"orient":"top","values":[10,20,30,50,60,70,90,100,110],"labels":false,"tickSize":-4,"title":null}},
    "y":{"field":"y","type":"quantitative","scale":{"domain":[0,1],"nice":false},"axis":{"orient":"right","values":[0.1,0.3,0.5,0.7,0.9],"labels":false,"tickSize":-4,"title":null}},
    "text":{"field":"lab"}}}
 ]},
{"width":153,"height":270,
 "resolve":{"axis":{"x":"independent","y":"independent"}},
 "layer":[
  {"data":{"name":"rev"},"transform":[{"filter":"datum.type === 'Regular'"}],"mark":{"type":"line","strokeWidth":1.8,"interpolate":"linear"},
   "encoding":{
    "x":{"field":"logN","type":"quantitative","scale":{"domain":[5.773,10.113],"nice":false,"zero":false},"axis":{"orient":"bottom","values":[6,7,8,9,10],"ticks":false,"labelPadding":5,"title":"System size N","titlePadding":2,"labelExpr":"'2' + ['⁶','⁷','⁸','⁹','¹⁰'][datum.value - 6]"}},
    "y":{"field":"y","type":"quantitative","scale":{"type":"log","domain":[0.01,1.035],"nice":false},"axis":{"orient":"left","values":[0.01,0.1,1],"ticks":false,"labelPadding":6,"title":"Fidelity first revival","titlePadding":6,"labelExpr":"datum.value >= 0.5 ? '1' : datum.value >= 0.05 ? '0.1' : '0.01'"}},
    "color":{"field":"type","type":"nominal","scale":{"domain":["Regular","On UPO","Chaotic"],"range":["#2eb35c","#ec1c24","#3535e3"]},"legend":null}}},
  {"data":{"name":"rev"},"transform":[{"filter":"datum.type !== 'Regular'"}],"mark":{"type":"line","strokeWidth":1.8,"interpolate":"linear"},
   "encoding":{
    "x":{"field":"logN","type":"quantitative","scale":{"domain":[5.773,10.113],"nice":false,"zero":false},"axis":{"orient":"top","values":[6.25,6.5,6.75,7.25,7.5,7.75,8.25,8.5,8.75,9.25,9.5,9.75],"labels":false,"tickSize":-4,"title":null}},
    "y":{"field":"y","type":"quantitative","scale":{"type":"log","domain":[0.01,1.035],"nice":false},"axis":{"orient":"right","values":[0.02,0.03,0.04,0.05,0.06,0.07,0.08,0.09,0.2,0.3,0.4,0.5,0.6,0.7,0.8,0.9],"labels":false,"tickSize":-4,"title":null}},
    "color":{"field":"type","type":"nominal","legend":null}}},
  {"data":{"name":"rev"},"mark":{"type":"circle","size":34,"opacity":1},
   "encoding":{
    "x":{"field":"logN","type":"quantitative","scale":{"domain":[5.773,10.113],"nice":false,"zero":false},"axis":{"orient":"bottom","values":[6,7,8,9,10],"labels":false,"tickSize":-7,"title":null}},
    "y":{"field":"y","type":"quantitative","scale":{"type":"log","domain":[0.01,1.035],"nice":false},"axis":{"orient":"left","values":[0.01,0.1,1],"labels":false,"tickSize":-7,"title":null}},
    "color":{"field":"type","type":"nominal","legend":null}}},
  {"data":{"values":[{"type":"Regular","x":7.97,"y":0.72},{"type":"On UPO","x":8.45,"y":0.159},{"type":"Chaotic","x":8.71,"y":0.0512}]},
   "mark":{"type":"text","align":"center","baseline":"middle","fontSize":20},
   "encoding":{
    "x":{"field":"x","type":"quantitative","scale":{"domain":[5.773,10.113],"nice":false,"zero":false},"axis":{"orient":"top","values":[6,7,8,9,10],"labels":false,"tickSize":-7,"title":null}},
    "y":{"field":"y","type":"quantitative","scale":{"type":"log","domain":[0.01,1.035],"nice":false},"axis":{"orient":"right","values":[0.01,0.1,1],"labels":false,"tickSize":-7,"title":null}},
    "text":{"field":"type"},
    "color":{"field":"type","type":"nominal","legend":null}}},
  {"data":{"values":[{"x":4.31,"y":0.99,"lab":"(c)"}]},
   "mark":{"type":"text","align":"center","baseline":"middle","fontSize":20,"color":"#000"},
   "encoding":{
    "x":{"field":"x","type":"quantitative","scale":{"domain":[5.773,10.113],"nice":false,"zero":false},"axis":{"orient":"bottom","values":[6.25,6.5,6.75,7.25,7.5,7.75,8.25,8.5,8.75,9.25,9.5,9.75],"labels":false,"tickSize":-4,"title":null}},
    "y":{"field":"y","type":"quantitative","scale":{"type":"log","domain":[0.01,1.035],"nice":false},"axis":{"orient":"left","values":[0.02,0.03,0.04,0.05,0.06,0.07,0.08,0.09,0.2,0.3,0.4,0.5,0.6,0.7,0.8,0.9],"labels":false,"tickSize":-4,"title":null}},
    "text":{"field":"lab"}}}
 ]}
]
}
